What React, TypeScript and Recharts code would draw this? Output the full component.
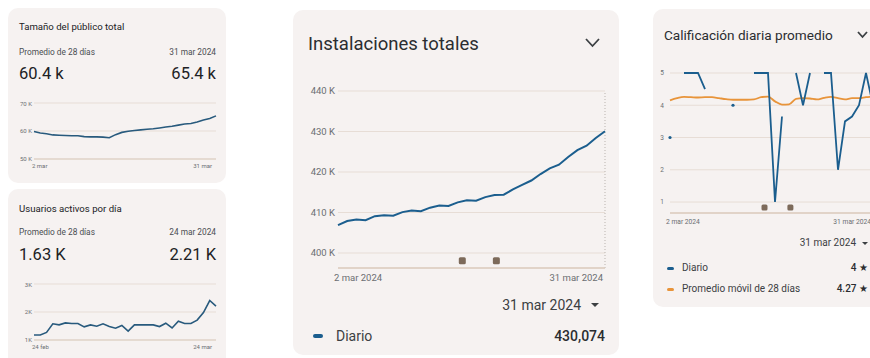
import React from 'react';
import {
  LineChart,
  Line,
  XAxis,
  YAxis,
  CartesianGrid,
  ReferenceDot,
  ReferenceLine,
} from 'recharts';

// ---- data ----
// Tamaño del público total (thousands), 2 mar – 31 mar
const audienceDays = ['2 mar', '31 mar'];
const audienceTotal = [
  59.8, 59.3, 59.0, 58.6, 58.5, 58.4, 58.3, 58.3, 58.0, 57.9,
  57.9, 57.8, 57.6, 58.7, 59.5, 59.9, 60.2, 60.4, 60.6, 60.8,
  61.1, 61.4, 61.7, 62.1, 62.5, 62.7, 63.2, 63.9, 64.5, 65.4,
];
const audienceTicks = [50, 60, 70];

// Usuarios activos por día (thousands), 24 feb – 24 mar
const activeDays = ['24 feb', '24 mar'];
const activeUsers = [
  1.18, 1.18, 1.27, 1.58, 1.54, 1.61, 1.59, 1.59, 1.47, 1.54,
  1.49, 1.58, 1.48, 1.42, 1.52, 1.32, 1.54, 1.54, 1.54, 1.54,
  1.48, 1.6, 1.43, 1.67, 1.59, 1.59, 1.71, 1.98, 2.41, 2.21,
];
const activeTicks = [1, 2, 3];

// Instalaciones totales (thousands), 2 mar 2024 – 31 mar 2024
const installDays = ['2 mar 2024', '31 mar 2024'];
const installsDaily = [
  406.9, 407.9, 408.3, 408.1, 409.1, 409.3, 409.2, 410.1, 410.5, 410.3,
  411.2, 411.7, 411.6, 412.5, 413.0, 412.9, 413.8, 414.3, 414.4, 415.7,
  416.8, 417.9, 419.5, 420.9, 421.8, 423.7, 425.4, 426.5, 428.4, 430.074,
];
const installTicks = [400, 410, 420, 430, 440];

// Calificación diaria promedio, 2 mar 2024 – 31 mar 2024 (null = no ratings that day)
const ratingDays = ['2 mar 2024', '31 mar 2024'];
const ratingDaily: (number | null)[] = [
  3, null, 5, 5, 5, 4.5, null, null, null, 4,
  null, null, 5, 5, 5, 1, 3.65, null, 5, 4,
  5, null, 5, 5, 2, 3.5, 3.65, 4, 5, 4,
];
const ratingAvg28 = [
  4.15, 4.22, 4.26, 4.25, 4.24, 4.25, 4.25, 4.22, 4.19, 4.17,
  4.17, 4.17, 4.18, 4.25, 4.27, 4.12, 4.02, 4.03, 4.2, 4.22,
  4.21, 4.18, 4.23, 4.26, 4.22, 4.18, 4.22, 4.22, 4.25, 4.27,
];
const ratingTicks = [1, 2, 3, 4, 5];

// Event annotations (day offsets within the March range)
const eventDays = [13.5, 17.2];

// ---- styling ----
const FONT = 'Roboto, "Noto Sans", Arial, sans-serif';
const CARD_BG = '#f6f2f1';
const GRID = '#e7ddd6';
const AXIS = '#dccdbf';
const BLUE = '#1b5e8e';
const SPARK = '#285a7d';
const ORANGE = '#e8943a';
const MARKER = '#7d6a5a';
const INK = '#202124';
const SUB = '#4a4d51';
const TICK = '#6b6e72';

const W = 870;
const H = 358;

type TProps = {
  x: number;
  y: number;
  s: number;
  c?: string;
  a?: 'start' | 'end';
  w?: number;
  children: React.ReactNode;
};

// Absolutely positioned text, y is the visual center of the line
const T = ({ x, y, s, c = INK, a = 'start', w = 400, children }: TProps) => (
  <div
    style={{
      position: 'absolute',
      top: y - s * 0.59,
      height: s * 1.2,
      lineHeight: `${s * 1.2}px`,
      fontSize: s,
      fontWeight: w,
      color: c,
      whiteSpace: 'nowrap',
      ...(a === 'end' ? { right: W - x } : { left: x }),
    }}
  >
    {children}
  </div>
);

const Card = ({ x, y, w, h }: { x: number; y: number; w: number; h: number }) => (
  <div
    style={{
      position: 'absolute',
      left: x,
      top: y,
      width: w,
      height: h,
      background: CARD_BG,
      borderRadius: 10,
    }}
  />
);

const Chevron = ({ x, y, w, h }: { x: number; y: number; w: number; h: number }) => (
  <svg style={{ position: 'absolute', left: x, top: y }} width={w + 4} height={h + 4}>
    <polyline
      points={`2,2 ${w / 2 + 2},${h + 2} ${w + 2},2`}
      fill="none"
      stroke="#3c4043"
      strokeWidth={1.8}
    />
  </svg>
);

const Caret = ({ x, y, w }: { x: number; y: number; w: number }) => (
  <svg style={{ position: 'absolute', left: x, top: y }} width={w} height={w / 2}>
    <polygon points={`0,0 ${w},0 ${w / 2},${w / 2}`} fill="#3c4043" />
  </svg>
);

const Dash = ({ x, y, w, h, c }: { x: number; y: number; w: number; h: number; c: string }) => (
  <div
    style={{
      position: 'absolute',
      left: x,
      top: y - h / 2,
      width: w,
      height: h,
      borderRadius: h / 2,
      background: c,
    }}
  />
);

// Y tick: right-aligned label left of the plot
const yTick =
  (fmt: (v: number) => string, size: number, gap: number) =>
  (props: any) => {
    const { x, y, payload } = props;
    return (
      <text
        x={x - gap}
        y={y}
        dy="0.35em"
        textAnchor="end"
        fontSize={size}
        fill={TICK}
        fontFamily={FONT}
      >
        {fmt(payload.value)}
      </text>
    );
  };

// X tick: first label anchored at start, last label anchored at end
const xTick =
  (labels: string[], last: number, size: number, dy: number, dx: number) =>
  (props: any) => {
    const { x, y, payload } = props;
    const isFirst = payload.value === 0;
    return (
      <text
        x={isFirst ? x - dx : x + dx}
        y={y + dy}
        textAnchor={isFirst ? 'start' : 'end'}
        fontSize={size}
        fill={TICK}
        fontFamily={FONT}
      >
        {isFirst ? labels[0] : labels[1]}
      </text>
    );
  };

const eventShape = (size: number) => (props: any) => {
  const { cx, cy } = props;
  return (
    <rect
      x={cx - size / 2}
      y={cy - size / 2}
      width={size}
      height={size}
      rx={1.5}
      fill={MARKER}
    />
  );
};

// Dot only for days with no rated neighbours, so single values stay visible
const isolatedDot = (vals: (number | null)[]) => (props: any) => {
  const { cx, cy, index } = props;
  const v = vals[index];
  const prev = index > 0 ? vals[index - 1] : null;
  const next = index < vals.length - 1 ? vals[index + 1] : null;
  if (v == null || prev != null || next != null || cx == null || cy == null) {
    return <g key={`iso-${index}`} />;
  }
  return <circle key={`iso-${index}`} cx={cx} cy={cy} r={1.6} fill={BLUE} />;
};

const toRows = (vals: (number | null)[]) => vals.map((v, d) => ({ d, v }));

type SparkProps = {
  left: number;
  top: number;
  vals: number[];
  ticks: number[];
  labels: string[];
  unit: string;
};

// Small trend chart used in the two left cards
const Spark = ({ left, top, vals, ticks, labels, unit }: SparkProps) => {
  const last = vals.length - 1;
  return (
    <div style={{ position: 'absolute', left, top }}>
      <LineChart
        width={210}
        height={78}
        data={toRows(vals)}
        margin={{ top: 8, right: 2, bottom: 0, left: 0 }}
      >
        <CartesianGrid horizontal vertical={false} stroke={GRID} strokeWidth={1} />
        <XAxis
          dataKey="d"
          type="number"
          domain={[0, last]}
          ticks={[0, last]}
          axisLine={{ stroke: AXIS, strokeWidth: 1.2 }}
          tickLine={false}
          tickSize={0}
          tickMargin={0}
          height={14}
          tick={xTick(labels, last, 6, 9, 2)}
        />
        <YAxis
          type="number"
          domain={[ticks[0], ticks[ticks.length - 1]]}
          ticks={ticks}
          axisLine={false}
          tickLine={false}
          tickSize={0}
          tickMargin={0}
          width={26}
          tick={yTick((v) => `${v}${unit}`, 6, 2)}
        />
        <Line
          type="linear"
          dataKey="v"
          stroke={SPARK}
          strokeWidth={1.6}
          dot={false}
          isAnimationActive={false}
        />
      </LineChart>
    </div>
  );
};

const InstallsChart = () => {
  const last = installsDaily.length - 1;
  return (
    <div style={{ position: 'absolute', left: 293, top: 80 }}>
      <LineChart
        width={314}
        height={204}
        data={toRows(installsDaily)}
        margin={{ top: 11, right: 2, bottom: 0, left: 0 }}
      >
        <CartesianGrid horizontal vertical={false} stroke={GRID} strokeWidth={1} />
        <XAxis
          dataKey="d"
          type="number"
          domain={[0, last]}
          ticks={[0, last]}
          axisLine={{ stroke: AXIS, strokeWidth: 1.4 }}
          tickLine={false}
          tickSize={0}
          tickMargin={0}
          height={16}
          tick={xTick(installDays, last, 9.5, 12.5, 4)}
        />
        <YAxis
          type="number"
          domain={[396.3, 440]}
          ticks={installTicks}
          axisLine={false}
          tickLine={false}
          tickSize={0}
          tickMargin={0}
          width={45}
          tick={yTick((v) => `${v} K`, 9.5, 3)}
        />
        <ReferenceLine x={last} stroke="#b9b3ae" strokeDasharray="1 2" strokeWidth={1} />
        {eventDays.map((d) => (
          <ReferenceDot key={d} x={d} y={398.1} shape={eventShape(7)} />
        ))}
        <Line
          type="linear"
          dataKey="v"
          stroke={BLUE}
          strokeWidth={2}
          dot={false}
          isAnimationActive={false}
        />
      </LineChart>
    </div>
  );
};

const RatingChart = () => {
  const last = ratingDaily.length - 1;
  const rows = ratingDaily.map((v, d) => ({ d, v, avg: ratingAvg28[d] }));
  return (
    <div style={{ position: 'absolute', left: 653, top: 62 }}>
      <LineChart
        width={222}
        height={165}
        data={rows}
        margin={{ top: 11, right: 2, bottom: 0, left: 0 }}
      >
        <CartesianGrid horizontal vertical={false} stroke={GRID} strokeWidth={1} />
        <XAxis
          dataKey="d"
          type="number"
          domain={[0, last]}
          ticks={[0, last]}
          axisLine={{ stroke: AXIS, strokeWidth: 1.4 }}
          tickLine={false}
          tickSize={0}
          tickMargin={0}
          height={14}
          tick={xTick(ratingDays, last, 6.7, 11, 4)}
        />
        <YAxis
          type="number"
          domain={[0.66, 5]}
          ticks={ratingTicks}
          axisLine={false}
          tickLine={false}
          tickSize={0}
          tickMargin={0}
          width={17}
          tick={yTick((v) => `${v}`, 6.5, 6)}
        />
        {eventDays.map((d) => (
          <ReferenceDot key={d} x={d} y={0.83} shape={eventShape(6)} />
        ))}
        <Line
          type="monotone"
          dataKey="avg"
          stroke={ORANGE}
          strokeWidth={1.8}
          dot={false}
          isAnimationActive={false}
        />
        <Line
          type="linear"
          dataKey="v"
          stroke={BLUE}
          strokeWidth={1.8}
          dot={isolatedDot(ratingDaily)}
          connectNulls={false}
          isAnimationActive={false}
        />
      </LineChart>
    </div>
  );
};

export default function App() {
  return (
    <div
      style={{
        position: 'fixed',
        left: 0,
        top: 0,
        width: W,
        height: H,
        overflow: 'hidden',
        background: '#ffffff',
        fontFamily: FONT,
      }}
    >
      {/* Tamaño del público total */}
      <Card x={8} y={8} w={218} h={175} />
      <T x={19} y={27} s={9.6}>Tamaño del público total</T>
      <T x={19} y={52.5} s={8.3} c={SUB}>Promedio de 28 días</T>
      <T x={216} y={52.5} s={8.3} c={SUB} a="end">31 mar 2024</T>
      <T x={19} y={74} s={16.5}>60.4 k</T>
      <T x={216} y={74} s={16.5} a="end">65.4 k</T>
      <Spark
        left={8}
        top={95}
        vals={audienceTotal}
        ticks={audienceTicks}
        labels={audienceDays}
        unit=" K"
      />

      {/* Usuarios activos por día */}
      <Card x={8} y={189} w={218} h={180} />
      <T x={19} y={208.5} s={9.6}>Usuarios activos por día</T>
      <T x={19} y={232.5} s={8.3} c={SUB}>Promedio de 28 días</T>
      <T x={216} y={232.5} s={8.3} c={SUB} a="end">24 mar 2024</T>
      <T x={19} y={255} s={16.5}>1.63 K</T>
      <T x={216} y={255} s={16.5} a="end">2.21 K</T>
      <Spark
        left={8}
        top={276}
        vals={activeUsers}
        ticks={activeTicks}
        labels={activeDays}
        unit="K"
      />

      {/* Instalaciones totales */}
      <Card x={293} y={10} w={326} h={345} />
      <T x={308} y={44} s={18.5} c="#2b2d30">Instalaciones totales</T>
      <Chevron x={584} y={37} w={13} h={7} />
      <InstallsChart />
      <T x={581} y={305} s={14} c="#3c4043" a="end">31 mar 2024</T>
      <Caret x={591} y={303} w={8} />
      <Dash x={313} y={336} w={10} h={4} c={BLUE} />
      <T x={336} y={336} s={14} c="#3c4043">Diario</T>
      <T x={605} y={336} s={14} c="#2b2d30" a="end" w={500}>430,074</T>

      {/* Calificación diaria promedio */}
      <Card x={653} y={9} w={230} h={298} />
      <T x={664} y={35} s={13.6} c="#2b2d30">Calificación diaria promedio</T>
      <Chevron x={856} y={30} w={9} h={5} />
      <RatingChart />
      <T x={856} y={243} s={10} c="#3c4043" a="end">31 mar 2024</T>
      <Caret x={862} y={241.5} w={6} />
      <Dash x={667} y={268} w={7} h={3} c={BLUE} />
      <T x={682} y={268} s={10} c="#3c4043">Diario</T>
      <T x={868} y={268} s={10} c="#2b2d30" a="end" w={500}>4 ★</T>
      <Dash x={667} y={289} w={7} h={3} c={ORANGE} />
      <T x={682} y={289} s={10} c="#3c4043">Promedio móvil de 28 días</T>
      <T x={868} y={289} s={10} c="#2b2d30" a="end" w={500}>4.27 ★</T>
    </div>
  );
}
